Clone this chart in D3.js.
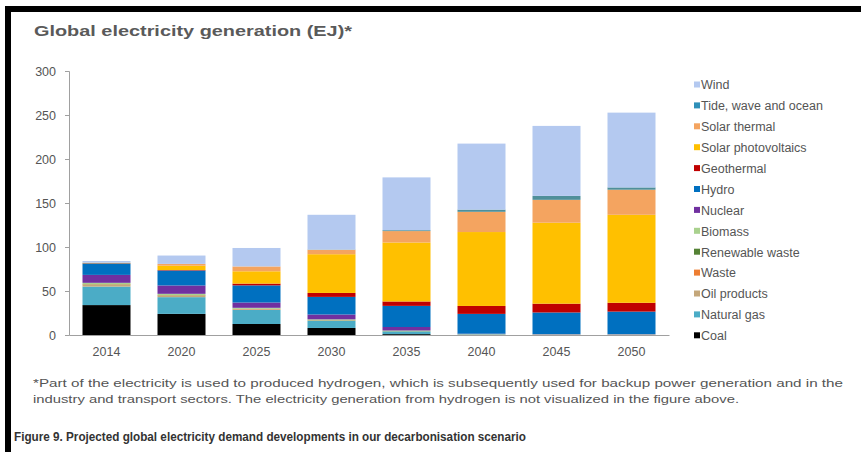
<!DOCTYPE html>
<html><head><meta charset="utf-8">
<script src="https://cdn.jsdelivr.net/npm/d3@7"></script>
<style>
html,body{margin:0;padding:0;background:#fff;}
svg{display:block;font-family:"Liberation Sans",Arial,sans-serif;}
</style></head>
<body>
<svg id="chart" width="861" height="452"></svg>
<script>
const years = ["2014","2020","2025","2030","2035","2040","2045","2050"];
const coal            = [34, 24, 12.5, 8, 1, 0, 0, 0];
const naturalGas      = [21, 19, 16, 8, 3, 0.5, 0.3, 0.3];
const oilProducts     = [2, 1.5, 0.8, 0.3, 0, 0, 0, 0];
const waste           = [0.5, 0.5, 0.3, 0.2, 0, 0, 0, 0];
const renewableWaste  = [0.3, 0.3, 0.3, 0.3, 0.3, 0, 0, 0];
const biomass         = [1.5, 1.5, 1, 1, 0.8, 0.5, 0.5, 0.5];
const nuclear         = [9, 9.5, 6, 5.5, 4, 0.5, 0.3, 0.3];
const hydro           = [13, 17, 19.5, 20, 24, 22.5, 24.5, 25.5];
const geothermal      = [0.3, 0.5, 2, 4.5, 5, 9, 10, 10];
const solarPV         = [0.5, 5, 14, 44, 67, 84, 92, 100];
const solarThermal    = [0, 2, 5.5, 5, 13, 23, 26, 28.5];
const tide            = [0, 0, 0, 0.3, 1, 2.5, 4.5, 2.6];
const wind            = [2, 9.5, 21, 39.5, 60, 75, 79.5, 85];
const yTicks = [0, 50, 100, 150, 200, 250, 300];

const seriesNames = ["Coal","Natural gas","Oil products","Waste","Renewable waste","Biomass","Nuclear","Hydro","Geothermal","Solar photovoltaics","Solar thermal","Tide, wave and ocean","Wind"];
const seriesValues = [coal,naturalGas,oilProducts,waste,renewableWaste,biomass,nuclear,hydro,geothermal,solarPV,solarThermal,tide,wind];
const seriesColors = ["#000000","#4bacc6","#c4a77a","#ed7d31","#548235","#a9d18e","#7030a0","#0070c0","#c00000","#ffc000","#f4a460","#2e8fb8","#b4c9f0"];
const tideBarColor = "#4f8f9a";

const svg = d3.select("#chart");

// frame
svg.append("rect").attr("x",5).attr("y",6).attr("width",870).attr("height",460)
  .attr("fill","none").attr("stroke","#000").attr("stroke-width",6)
  .attr("transform","translate(3,3)");

svg.append("text").attr("x",34).attr("y",36).attr("font-size",15.5).attr("font-weight","bold")
  .attr("fill","#5a5a5a").attr("textLength",318).attr("lengthAdjust","spacingAndGlyphs")
  .text("Global electricity  generation  (EJ)*");

const x = d3.scaleBand().domain(years).range([69,669]).paddingInner(0.36).paddingOuter(0.18);
const y = d3.scaleLinear().domain([0,300]).range([335,71]);

const table = years.map((yr,i)=>{
  const o={year:yr};
  seriesNames.forEach((n,k)=>o[n]=seriesValues[k][i]);
  return o;
});
const stacked = d3.stack().keys(seriesNames)(table);

const g = svg.append("g");
stacked.forEach((layer,k)=>{
  g.selectAll(null).data(layer).enter().append("rect")
    .attr("x",d=>x(d.data.year))
    .attr("width",x.bandwidth())
    .attr("y",d=>y(d[1]))
    .attr("height",d=>Math.max(0,y(d[0])-y(d[1])))
    .attr("fill", seriesNames[k]==="Tide, wave and ocean" ? tideBarColor : seriesColors[k]);
});

// y axis
const yAxis = svg.append("g").attr("transform","translate(69,0)")
  .call(d3.axisLeft(y).tickValues(yTicks).tickSize(4).tickPadding(9));
yAxis.select(".domain").attr("stroke","#a0a0a0");
yAxis.selectAll(".tick line").attr("stroke","#a0a0a0");
yAxis.selectAll("text").attr("font-size",12.5).attr("fill","#555").attr("font-family","Liberation Sans, Arial, sans-serif");

// x axis
const xAxis = svg.append("g").attr("transform","translate(0,335)")
  .call(d3.axisBottom(x).tickSize(0).tickPadding(12));
xAxis.select(".domain").attr("stroke","#a0a0a0");
xAxis.selectAll("text").attr("font-size",12.5).attr("fill","#555").attr("font-family","Liberation Sans, Arial, sans-serif");

// legend
const legendNames = seriesNames.slice().reverse();
const legendColors = seriesColors.slice().reverse();
const leg = svg.append("g");
legendNames.forEach((n,i)=>{
  const yy = 85 + i*20.9;
  leg.append("rect").attr("x",694).attr("y",yy-3.5).attr("width",6).attr("height",6).attr("fill",legendColors[i]);
  leg.append("text").attr("x",701).attr("y",yy).attr("dy","0.35em").attr("font-size",12.5)
    .attr("fill","#555").text(n);
});

// footnote
svg.append("text").attr("x",33).attr("y",387).attr("font-size",11.5).attr("fill","#555")
  .attr("textLength",810).attr("lengthAdjust","spacingAndGlyphs")
  .text("*Part of the electricity is used to produced hydrogen, which is subsequently  used for backup power generation and in the");
svg.append("text").attr("x",33).attr("y",403).attr("font-size",11.5).attr("fill","#555")
  .attr("textLength",706).attr("lengthAdjust","spacingAndGlyphs")
  .text("industry and transport sectors. The electricity generation  from hydrogen is not visualized  in the figure above.");

svg.append("text").attr("x",14).attr("y",441).attr("font-size",12).attr("font-weight","bold").attr("fill","#333")
  .attr("textLength",512).attr("lengthAdjust","spacingAndGlyphs")
  .text("Figure 9. Projected global electricity demand developments in our decarbonisation scenario");
</script>
</body></html>
